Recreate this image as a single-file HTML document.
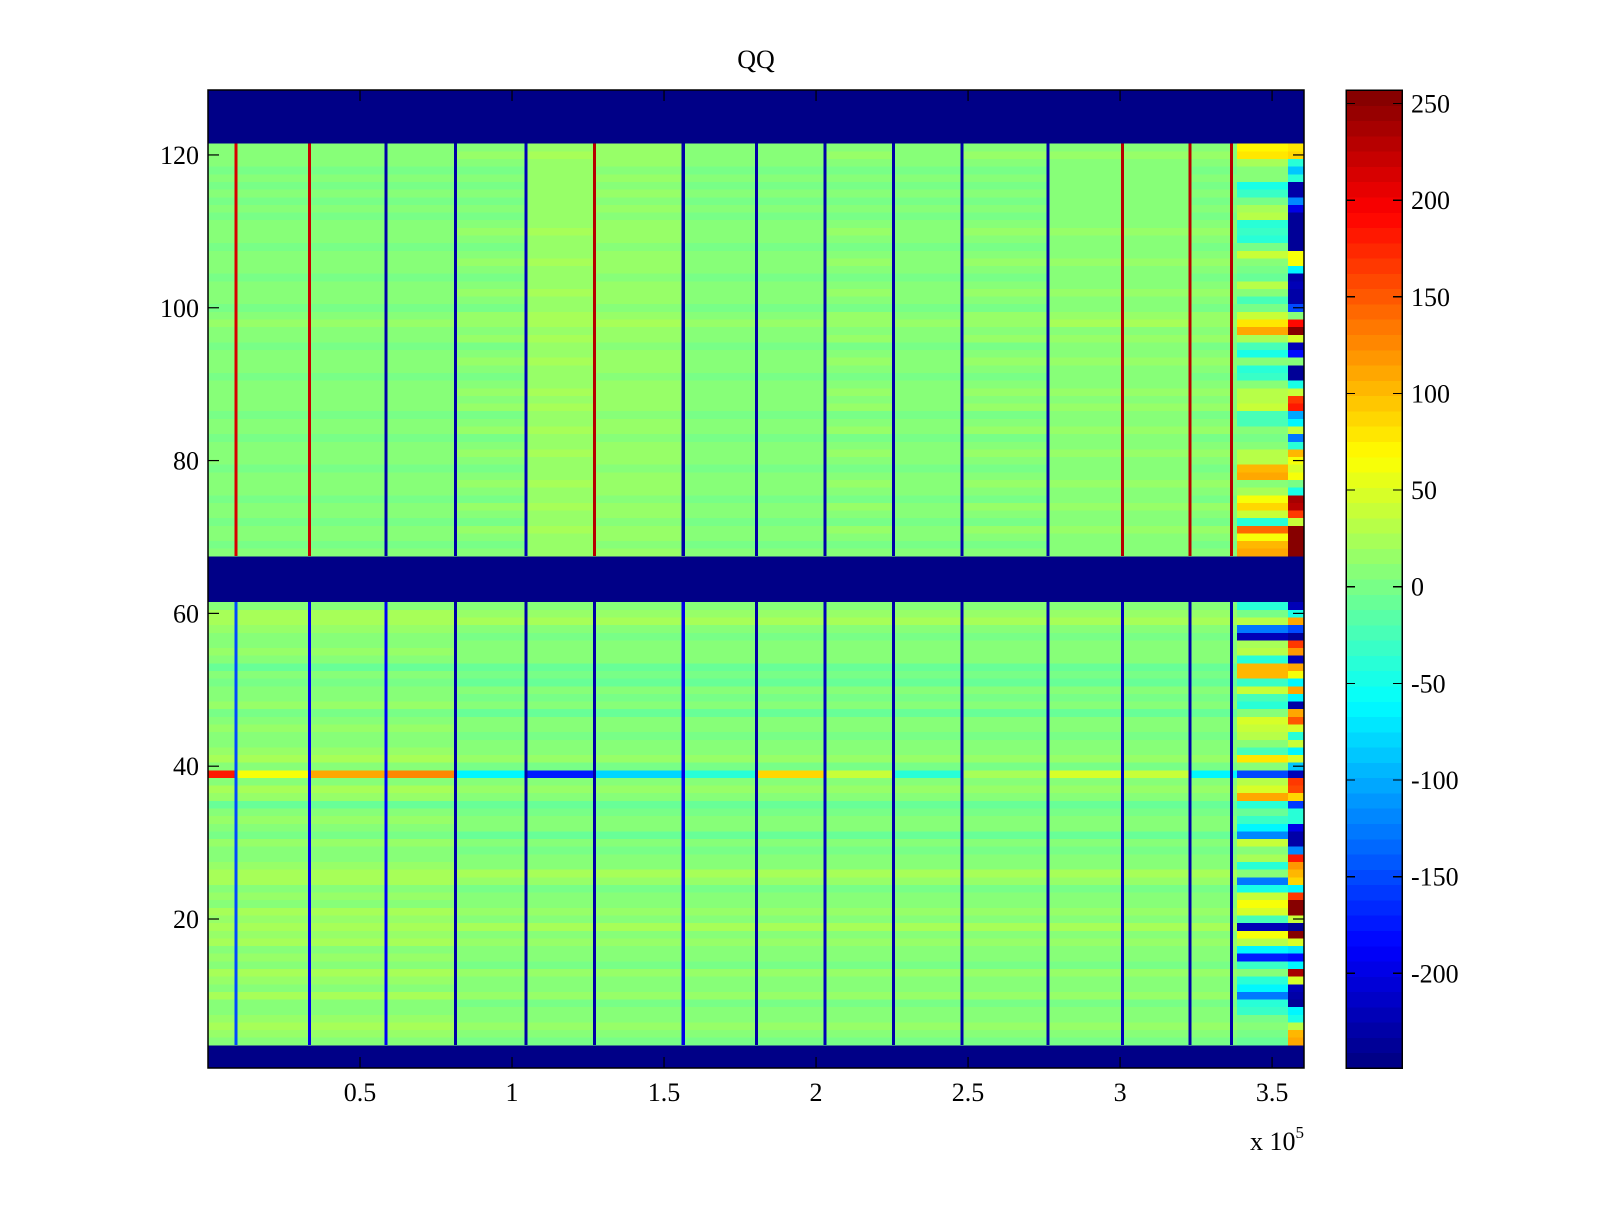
<!DOCTYPE html>
<html><head><meta charset="utf-8">
<style>
html,body{margin:0;padding:0;background:#fff;}
svg text{font-family:"Liberation Serif",serif;fill:#000;}
</style></head>
<body>
<svg id="chart" width="1600" height="1200" xmlns="http://www.w3.org/2000/svg">
<rect x="0" y="0" width="1600" height="1200" fill="#fff"/>
<g id="cells" shape-rendering="crispEdges"></g>
<g id="axes"></g>
<g id="cbar" shape-rendering="crispEdges"></g>
<text x="756" y="68" font-size="26" text-anchor="middle">QQ</text>
<text x="1250" y="1150" font-size="26">x 10<tspan dy="-12" font-size="17">5</tspan></text>
</svg>
<script>
// ---- data ----
const clim = [-249, 257];
const blankRows = [1,2,3,62,63,64,65,66,67,122,123,124,125,126,127,128];
const blankValue = -249;
// main-region per-row mean value (index = row-1, rows 1..128)
const rowMain = [
-249,-249,-249, 0,10,15,10,5,0,15,
5,10,15,0,10,5,15,10,20,10,
15,5,10,0,15,20,10,5,0,10,
-5,5,10,0,-10,10,15,5,0,0,
15,10,5,0,10,5,-5,10,0,5,
-5,0,-10,5,10,5,0,10,20,15,
5,-249,-249,-249,-249,-249,-249,5,0,5,
10,0,5,10,0,5,10,5,0,5,
10,5,0,10,5,0,10,5,10,5,
0,5,10,5,0,10,5,15,10,0,
5,10,5,0,5,10,5,0,5,10,
5,0,5,0,5,0,5,0,5,10,
5,-249,-249,-249,-249,-249,-249,-249];
// vertical line positions (x data units) and values
const lineX = [9180,33360,58550,81410,104570,127070,156320,180490,202990,225530,248030,276220,300760,322930,336680];
const lineTop = [210,220,-230,-230,-220,230,-230,-230,-230,-230,-230,-230,230,230,230];
const lineBottom = [-150,-200,-190,-230,-230,-230,-200,-230,-220,-230,-230,-230,-220,-230,-230];
// block offsets (blocks between lines)
const blockTop = [0,0,0,0,3,12,8,0,0,3,0,3,6,6,3,0];
const blockBottom = [5,5,5,5,0,0,0,0,0,0,0,0,0,0,0,0];
// row 39 special values per block
const row39 = [180,60,110,130,-60,-170,-80,-40,90,40,-40,20,50,40,-60,-60];
// tail region (rows 4..61 and 68..121)
const tailVal = {};
const tailEdge = {};
const tailRowsTop = [121,120,119,118,117,116,115,114,113,112,111,110,109,108,107,106,105,104,103,102,101,100,99,98,97,96,95,94,93,92,91,90,89,88,87,86,85,84,83,82,81,80,79,78,77,76,75,74,73,72,71,70,69,68];
const tailTopMain = [70,80,20,10,10,-50,-30,0,20,30,-40,-30,-40,0,40,10,0,-10,30,10,-20,0,40,80,110,20,-20,-50,10,-40,-30,10,30,30,40,-20,-20,10,0,10,30,30,100,110,10,20,60,90,40,-40,140,60,100,110];
const tailTopEdge = [80,90,-40,-90,-40,-230,-230,-120,-200,-240,-240,-240,-240,-240,60,60,-60,-230,-220,-230,-230,-150,10,190,250,50,-220,-180,10,-240,-240,-50,40,170,180,-100,-60,40,-130,-40,100,60,50,60,0,-50,240,230,170,40,250,250,250,250];
const tailRowsBottom = [61,60,59,58,57,56,55,54,53,52,51,50,49,48,47,46,45,44,43,42,41,40,39,38,37,36,35,34,33,32,31,30,29,28,27,26,25,24,23,22,21,20,19,18,17,16,15,14,13,12,11,10,9,8,7,6,5,4];
const tailBottomMain = [-40,0,30,-130,-220,20,30,-40,100,100,-30,40,-20,-40,10,50,40,30,10,-20,80,10,-150,30,50,110,-40,-10,-30,-60,-120,40,10,20,-40,10,-130,-50,40,60,50,-20,-220,60,30,-60,-170,-30,10,-40,-60,-130,-40,-30,0,10,0,-10];
const tailBottomEdge = [-220,-50,110,-150,-240,170,120,-220,110,60,-60,110,-60,-230,110,150,50,-40,40,-60,50,-90,-220,170,160,90,-160,-40,-40,-200,-230,-230,-120,180,120,100,90,-60,170,250,250,40,-240,250,50,-70,-180,-60,240,50,-220,-230,-240,-60,-50,30,100,110];
const xTicks = [50000,100000,150000,200000,250000,300000,350000];
const xTickLabels = ["0.5","1","1.5","2","2.5","3","3.5"];
const yTicks = [20,40,60,80,100,120];
const cbTicks = [-200,-150,-100,-50,0,50,100,150,200,250];

// ---- geometry ----
const PL=208, PR=1304, PT=90, PB=1068;
const XMIN=0, XMAX=360500, YMIN=0.5, YMAX=128.5;
const CBL=1346, CBR=1402;
const tailStart = 338500, edgeStart = 355260;
const lineHalfW = 500;
function xs(v){return PL+(v-XMIN)/(XMAX-XMIN)*(PR-PL);}
function ys(v){return PT+(YMAX-v)/(YMAX-YMIN)*(PB-PT);}
function cbs(v){return PB-(v-clim[0])/(clim[1]-clim[0])*(PB-PT);}
function jet(v){
  let idx=Math.floor((v-clim[0])/(clim[1]-clim[0])*64);
  idx=Math.max(0,Math.min(63,idx));
  const t=(idx+0.5)/64;
  const c=a=>Math.round(255*Math.max(0,Math.min(1,a)));
  return `rgb(${c(1.5-Math.abs(4*t-3))},${c(1.5-Math.abs(4*t-2))},${c(1.5-Math.abs(4*t-1))})`;
}
const NS="http://www.w3.org/2000/svg";
function mk(tag,attrs,parent){const e=document.createElementNS(NS,tag);for(const k in attrs)e.setAttribute(k,attrs[k]);parent.appendChild(e);return e;}
tailRowsTop.forEach((r,i)=>{tailVal[r]=tailTopMain[i];tailEdge[r]=tailTopEdge[i];});
tailRowsBottom.forEach((r,i)=>{tailVal[r]=tailBottomMain[i];tailEdge[r]=tailBottomEdge[i];});

const cells=document.getElementById('cells');
const bounds=[XMIN].concat(lineX).concat([tailStart]);
for(let r=1;r<=128;r++){
  const y0=ys(r+0.5), y1=ys(r-0.5);
  if(blankRows.includes(r)){
    const e=mk('rect',{x:xs(XMIN),y:y0,width:xs(XMAX)-xs(XMIN),height:y1-y0,fill:jet(blankValue)},cells);
    
    
    continue;
  }
  const top=r>64;
  for(let b=0;b<bounds.length-1;b++){
    let v=(r===39)?row39[b]:rowMain[r-1]+(top?blockTop[b]:blockBottom[b]);
    const e=mk('rect',{x:xs(bounds[b]),y:y0,width:xs(bounds[b+1])-xs(bounds[b])+0.5,height:y1-y0+0.3,fill:jet(v)},cells);
    
    
  }
  const tv=(tailVal[r]!==undefined)?tailVal[r]:rowMain[r-1];
  const te=(tailEdge[r]!==undefined)?tailEdge[r]:tv;
  const t1=mk('rect',{x:xs(tailStart),y:y0,width:xs(edgeStart)-xs(tailStart)+0.5,height:y1-y0+0.3,fill:jet(tv)},cells);
  
  
  const t2=mk('rect',{x:xs(edgeStart),y:y0,width:xs(XMAX)-xs(edgeStart),height:y1-y0+0.3,fill:jet(te)},cells);
  
  
}
// vertical lines
lineX.forEach((lx,i)=>{
  [[68,121,lineTop[i]],[4,61,lineBottom[i]]].forEach(([r0,r1,v])=>{
    const y0=ys(r1+0.5), y1=ys(r0-0.5);
    const e=mk('rect',{x:xs(lx-lineHalfW),y:y0,width:xs(lx+lineHalfW)-xs(lx-lineHalfW),height:y1-y0,fill:jet(v)},cells);
    
    
  });
});

// axes
const ax=document.getElementById('axes');
const box=mk('rect',{x:PL,y:PT,width:PR-PL,height:PB-PT,fill:'none',stroke:'#000','stroke-width':1.5},ax);


xTicks.forEach((t,i)=>{
  const x=xs(t);
  const a=mk('line',{x1:x,y1:PB,x2:x,y2:PB-11,stroke:'#000','stroke-width':1.2},ax);
  
  
  const b=mk('line',{x1:x,y1:PT,x2:x,y2:PT+11,stroke:'#000','stroke-width':1.2},ax);
  
  
  const tx=mk('text',{x:x,y:PB+33,'font-size':26,'text-anchor':'middle'},ax);
  tx.textContent=xTickLabels[i];
  
  
});
yTicks.forEach(t=>{
  const y=ys(t);
  const a=mk('line',{x1:PL,y1:y,x2:PL+11,y2:y,stroke:'#000','stroke-width':1.2},ax);
  
  
  const b=mk('line',{x1:PR,y1:y,x2:PR-11,y2:y,stroke:'#000','stroke-width':1.2},ax);
  
  
  const tx=mk('text',{x:PL-9,y:y+9,'font-size':26,'text-anchor':'end'},ax);
  tx.textContent=String(t);
  
  
});

// colorbar
const cb=document.getElementById('cbar');
for(let i=0;i<64;i++){
  const v0=clim[0]+i*(clim[1]-clim[0])/64, v1=clim[0]+(i+1)*(clim[1]-clim[0])/64;
  const e=mk('rect',{x:CBL,y:cbs(v1),width:CBR-CBL,height:cbs(v0)-cbs(v1)+0.5,fill:jet((v0+v1)/2)},cb);
  
  
}
const cf=mk('rect',{x:CBL,y:PT,width:CBR-CBL,height:PB-PT,fill:'none',stroke:'#000','stroke-width':1.5},cb);


cbTicks.forEach(t=>{
  const y=cbs(t);
  const a=mk('line',{x1:CBL,y1:y,x2:CBL+9,y2:y,stroke:'#000','stroke-width':1.2},cb);
  
  
  const b=mk('line',{x1:CBR,y1:y,x2:CBR-9,y2:y,stroke:'#000','stroke-width':1.2},cb);
  
  
  const tx=mk('text',{x:CBR+9,y:y+9,'font-size':26},cb);
  tx.textContent=String(t);
  
  
});
</script>
</body></html>
